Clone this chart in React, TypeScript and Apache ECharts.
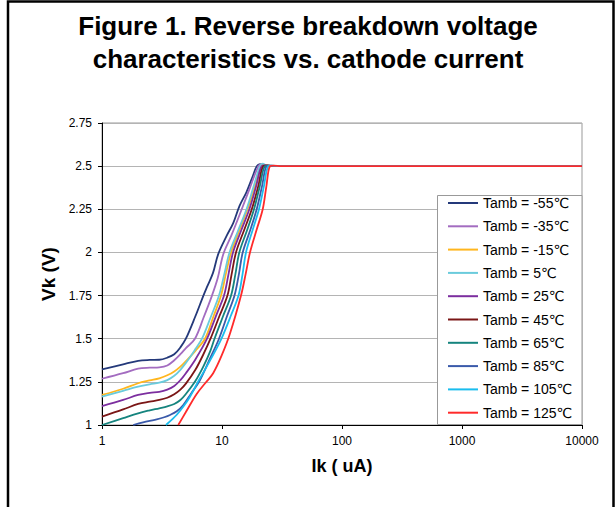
import React, { useEffect, useRef } from 'react';
import * as echarts from 'echarts';

const titleLines = ['Figure 1. Reverse breakdown voltage', 'characteristics vs. cathode current'];
const xAxisTitle = 'Ik ( uA)';
const yAxisTitle = 'Vk (V)';
const xTickLabels = ['1', '10', '100', '1000', '10000'];
const yTickLabels = ['1', '1.25', '1.5', '1.75', '2', '2.25', '2.5', '2.75'];

const seriesNames = [
  'Tamb = -55℃', 'Tamb = -35℃', 'Tamb = -15℃', 'Tamb = 5℃', 'Tamb = 25℃',
  'Tamb = 45℃', 'Tamb = 65℃', 'Tamb = 85℃', 'Tamb = 105℃', 'Tamb = 125℃',
];
const seriesColors = [
  '#24397A', '#A36CC0', '#FFB61E', '#6ACBDC', '#7C2E9F',
  '#7A1616', '#15847E', '#3A5AAA', '#1ABDEE', '#FF2A2A',
];

const tailIk = [100, 1000, 10000];
const tailVk = [2.5, 2.5, 2.5];

const ikM55 = [1, 1.5, 2, 2.5, 3, 3.5, 4, 4.5, 5, 6, 7, 7.5, 8.4, 9.3, 11, 12.4, 14, 16, 18, 19.5, 20.7, 22.5, 26];
const vkM55 = [1.322, 1.352, 1.372, 1.377, 1.378, 1.39, 1.41, 1.45, 1.5, 1.63, 1.75, 1.8, 1.88, 1.99, 2.1, 2.17, 2.27, 2.35, 2.44, 2.5, 2.512, 2.503, 2.5];

const ikM35 = [1, 1.5, 2, 2.5, 3, 3.5, 4, 4.5, 5, 5.95, 7, 8.25, 9.2, 10.25, 12, 14.6, 17, 20.1, 21.3, 23, 26];
const vkM35 = [1.268, 1.3, 1.326, 1.332, 1.334, 1.345, 1.375, 1.41, 1.445, 1.5, 1.62, 1.75, 1.85, 1.99, 2.1, 2.25, 2.37, 2.5, 2.512, 2.503, 2.5];

const ikM15 = [1, 1.5, 2, 2.5, 3, 3.5, 4, 4.5, 5, 6, 7.21, 8.5, 9.81, 10.8, 11.9, 14, 16.3, 18.8, 21.1, 22.5, 25];
const vkM15 = [1.174, 1.21, 1.242, 1.258, 1.27, 1.288, 1.31, 1.338, 1.37, 1.43, 1.5, 1.63, 1.75, 1.88, 2.0, 2.13, 2.25, 2.38, 2.5, 2.506, 2.5];

const ikP5 = [1, 1.5, 2, 2.5, 3, 3.5, 4, 4.5, 5, 5.5, 6, 6.81, 8, 9.44, 10.5, 11.55, 13.5, 16, 18.3, 20.73, 21.8, 23.5, 27];
const vkP5 = [1.164, 1.198, 1.222, 1.236, 1.245, 1.26, 1.285, 1.32, 1.36, 1.4, 1.44, 1.5, 1.62, 1.75, 1.88, 2.0, 2.12, 2.25, 2.38, 2.5, 2.515, 2.503, 2.5];

const ikP25 = [1, 1.5, 2, 2.5, 3, 3.5, 4, 4.5, 5, 6, 7.5, 9, 10.39, 11.3, 12.35, 14.5, 16.9, 19.2, 21.4, 23, 26];
const vkP25 = [1.11, 1.145, 1.174, 1.186, 1.192, 1.205, 1.226, 1.26, 1.3, 1.38, 1.5, 1.64, 1.75, 1.87, 2.0, 2.13, 2.25, 2.38, 2.5, 2.505, 2.5];

const ikP45 = [1, 1.5, 2, 2.5, 3, 3.5, 4, 4.5, 5, 6, 7, 8.02, 9.5, 11.1, 12, 13.08, 15.3, 17.7, 20, 22.1, 24, 27];
const vkP45 = [1.048, 1.09, 1.122, 1.135, 1.145, 1.158, 1.178, 1.205, 1.24, 1.32, 1.41, 1.5, 1.63, 1.75, 1.87, 2.0, 2.13, 2.25, 2.38, 2.5, 2.504, 2.5];

const ikP65 = [1, 1.5, 2, 2.5, 3, 3.5, 4, 4.5, 5, 6, 7, 8, 8.66, 10.2, 11.9, 12.9, 13.94, 16.2, 18.48, 20.6, 22.8, 24.5, 28];
const vkP65 = [1.0, 1.04, 1.068, 1.085, 1.097, 1.108, 1.122, 1.145, 1.18, 1.255, 1.34, 1.43, 1.5, 1.63, 1.75, 1.87, 2.0, 2.13, 2.25, 2.38, 2.5, 2.503, 2.5];

const ikP85 = [1.82, 2.2, 2.86, 3.3, 3.69, 4.2, 4.76, 5.5, 6.56, 8, 9.44, 11, 12.71, 13.8, 14.88, 17.2, 19.46, 21.5, 23.6, 25.5, 29];
const vkP85 = [1.0, 1.015, 1.033, 1.045, 1.058, 1.08, 1.116, 1.18, 1.261, 1.39, 1.5, 1.63, 1.75, 1.87, 2.0, 2.13, 2.25, 2.38, 2.5, 2.503, 2.5];

const ikP105 = [3.41, 3.8, 4.18, 4.8, 5.41, 6.3, 7.45, 9, 9.9, 11.8, 13.72, 14.8, 15.85, 18, 20.33, 22.3, 24.3, 26, 30];
const vkP105 = [1.0, 1.03, 1.058, 1.11, 1.164, 1.25, 1.338, 1.443, 1.5, 1.63, 1.75, 1.87, 2.0, 2.13, 2.25, 2.38, 2.5, 2.503, 2.5];

const ikP125 = [4.32, 5, 6.15, 7.3, 8.44, 9.9, 11.66, 14.4, 15.8, 17.11, 19.4, 21.84, 23.4, 25.12, 27, 31];
const vkP125 = [1.0, 1.075, 1.18, 1.245, 1.3, 1.4, 1.53, 1.75, 1.88, 2.0, 2.13, 2.25, 2.38, 2.5, 2.503, 2.5];

const ikSets = [ikM55, ikM35, ikM15, ikP5, ikP25, ikP45, ikP65, ikP85, ikP105, ikP125];
const vkSets = [vkM55, vkM35, vkM15, vkP5, vkP25, vkP45, vkP65, vkP85, vkP105, vkP125];

const FONT = "'Liberation Sans', Arial, 'DejaVu Sans', sans-serif";

export default function App() {
  const ref = useRef<HTMLDivElement>(null);

  useEffect(() => {
    if (!ref.current) return;
    const chart = echarts.init(ref.current, undefined, { renderer: 'svg' });

    const series = seriesNames.map((name, i) => {
      const xs = ikSets[i].concat(tailIk);
      const ys = vkSets[i].concat(tailVk);
      return {
        name,
        type: 'line',
        data: xs.map((x, j) => [x, ys[j]]),
        showSymbol: false,
        symbol: 'none',
        smooth: 0.35,
        lineStyle: { color: seriesColors[i], width: 1.8 },
        itemStyle: { color: seriesColors[i] },
        clip: true,
        z: 2 + i * 0.01,
      };
    });

    chart.setOption({
      animation: false,
      backgroundColor: '#ffffff',
      title: {
        text: titleLines.join('\n'),
        left: 'center',
        top: 4,
        textStyle: {
          fontFamily: FONT,
          fontSize: 26,
          fontWeight: 'bold',
          lineHeight: 33,
          color: '#000',
        },
      },
      grid: {
        left: 102,
        right: 34,
        top: 123,
        bottom: 82,
        show: true,
        borderColor: '#999',
        borderWidth: 1,
        backgroundColor: 'transparent',
      },
      xAxis: {
        type: 'log',
        logBase: 10,
        min: 1,
        max: 10000,
        name: xAxisTitle,
        nameLocation: 'middle',
        nameGap: 32,
        nameTextStyle: { fontFamily: FONT, fontSize: 18, fontWeight: 'bold', color: '#000' },
        axisLine: { show: true, lineStyle: { color: '#000', width: 1 } },
        axisTick: { show: true, length: 4, lineStyle: { color: '#000' } },
        minorTick: { show: false },
        splitLine: { show: false },
        axisLabel: {
          fontFamily: FONT,
          fontSize: 12,
          color: '#000',
          margin: 10,
          formatter: (v: number) => {
            const k = Math.round(Math.log10(v));
            return xTickLabels[k] ?? String(v);
          },
        },
      },
      yAxis: {
        type: 'value',
        min: 1,
        max: 2.75,
        interval: 0.25,
        name: yAxisTitle,
        nameLocation: 'middle',
        nameGap: 42,
        nameTextStyle: { fontFamily: FONT, fontSize: 19, fontWeight: 'bold', color: '#000' },
        axisLine: { show: true, lineStyle: { color: '#000', width: 1 } },
        axisTick: { show: true, length: 4, lineStyle: { color: '#000' } },
        splitLine: { show: true, lineStyle: { color: '#b4b4b4', width: 1 } },
        axisLabel: {
          fontFamily: FONT,
          fontSize: 12,
          color: '#000',
          margin: 10,
          formatter: (v: number) => {
            const k = Math.round((v - 1) / 0.25);
            return yTickLabels[k] ?? String(v);
          },
        },
      },
      legend: {
        data: seriesNames,
        orient: 'vertical',
        left: 448,
        top: 195,
        padding: 0,
        icon: 'rect',
        itemWidth: 30,
        itemHeight: 2,
        itemGap: 7.3,
        z: 10,
        selectedMode: false,
        textStyle: { fontFamily: FONT, fontSize: 14, lineHeight: 16, color: '#000' },
      },
      graphic: [
        {
          type: 'rect',
          z: 5,
          silent: true,
          shape: { x: 437.5, y: 195.5, width: 144.5, height: 229 },
          style: { fill: '#fff', stroke: '#999', lineWidth: 1 },
        },
        {
          type: 'polyline',
          z: 20,
          silent: true,
          shape: { points: [[8, 507], [8, 1.5], [613.5, 1.5], [613.5, 507]] },
          style: { stroke: '#000', lineWidth: 2.5, fill: 'none' },
        },
      ],
      series,
    });

    return () => chart.dispose();
  }, []);

  return (
    <div
      ref={ref}
      style={{ position: 'fixed', left: 0, top: 0, width: 616, height: 507, background: '#fff' }}
    />
  );
}
